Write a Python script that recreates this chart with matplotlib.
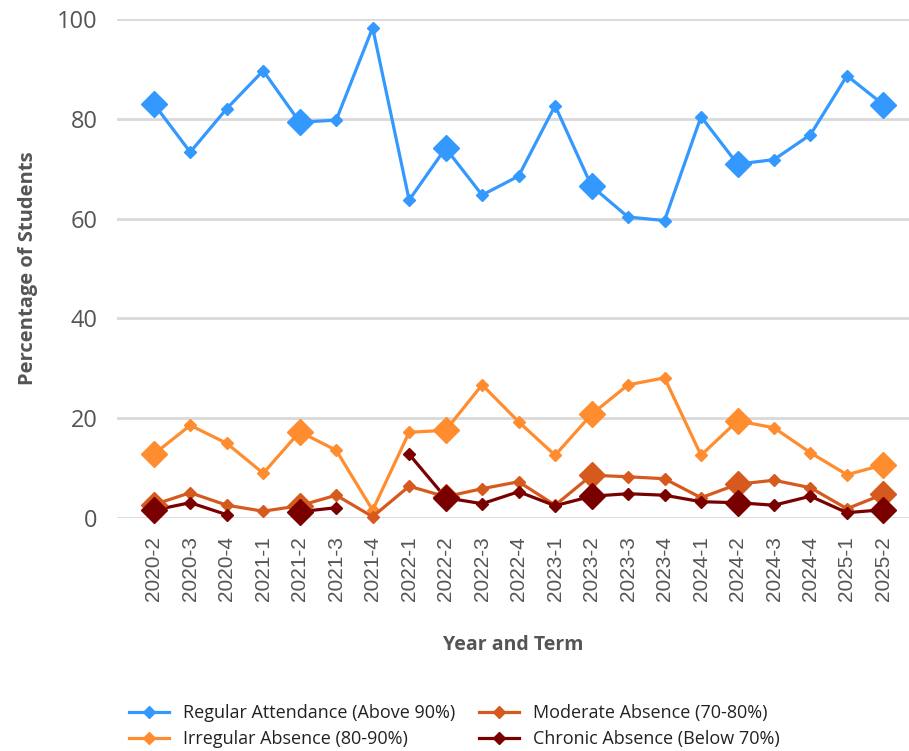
import matplotlib.pyplot as plt
import numpy as np

terms = ["2020-2", "2020-3", "2020-4", "2021-1", "2021-2", "2021-3", "2021-4",
         "2022-1", "2022-2", "2022-3", "2022-4", "2023-1", "2023-2", "2023-3",
         "2023-4", "2024-1", "2024-2", "2024-3", "2024-4", "2025-1", "2025-2"]

regular = [83.0, 73.3, 82.0, 89.6, 79.3, 79.7, 98.2, 63.7, 74.1, 64.7, 68.5,
           82.6, 66.5, 60.3, 59.6, 80.4, 70.9, 71.8, 76.8, 88.6, 82.8]
irregular = [12.8, 18.6, 15.0, 9.0, 17.3, 13.6, 1.6, 17.2, 17.6, 26.7, 19.3,
             12.6, 20.8, 26.7, 28.1, 12.6, 19.5, 18.1, 13.1, 8.7, 10.7]
moderate = [2.7, 5.1, 2.6, 1.4, 2.5, 4.6, 0.3, 6.4, 4.3, 5.9, 7.3,
            2.6, 8.6, 8.3, 7.9, 4.1, 6.8, 7.6, 6.1, 1.9, 4.8]
chronic = [1.6, 3.1, 0.7, np.nan, 1.3, 2.1, np.nan, 12.8, 4.1, 2.9, 5.3,
           2.5, 4.4, 4.9, 4.6, 3.3, 3.1, 2.6, 4.4, 1.1, 1.7]

series = [
    ("Regular Attendance (Above 90%)", regular, "#3399ff"),
    ("Irregular Absence (80-90%)", irregular, "#ff8c2e"),
    ("Moderate Absence (70-80%)", moderate, "#d65a1e"),
    ("Chronic Absence (Below 70%)", chronic, "#7a0000"),
]

# the "-2" terms get the big markers
big = [i for i, t in enumerate(terms) if t.endswith("-2")]

plt.rcParams["font.family"] = ["Open Sans", "DejaVu Sans"]

fig = plt.figure(figsize=(9.09, 7.51), dpi=100)
ax = fig.add_axes([0.129, 0.31, 0.871, 0.665])

x = np.arange(len(terms))
handles = []
for name, vals, color in series:
    vals = np.array(vals, dtype=float)
    line, = ax.plot(x, vals, color=color, lw=2.3, marker="D", markersize=6.5,
                    label=name, clip_on=False, zorder=3)
    ax.plot(x[big], vals[big], linestyle="none", marker="D", markersize=13,
            color=color, clip_on=False, zorder=4)
    handles.append(line)

ax.set_xlim(-1, 20.7)
ax.set_ylim(0, 100)
ax.set_yticks([0, 20, 40, 60, 80, 100])
ax.set_xticks(x)
ax.set_xticklabels(terms, rotation=90, fontsize=15, color="#555555",
                   family=["Liberation Sans", "DejaVu Sans"])
ax.tick_params(axis="y", labelsize=17, colors="#555555", length=0, pad=14)
ax.tick_params(axis="x", length=0, pad=13)
ax.grid(axis="y", color="#d9d9d9", lw=2)
ax.set_axisbelow(True)
for s in ax.spines.values():
    s.set_visible(False)

ax.set_xlabel("Year and Term", fontsize=14, fontweight="bold", color="#555555",
              labelpad=24)
ax.set_ylabel("Percentage of Students", fontsize=14.5, fontweight="bold",
              color="#555555", labelpad=14)

fig.legend(handles=handles, loc="lower center", bbox_to_anchor=(0.5, -0.018),
           ncol=2, frameon=False, fontsize=13, handlelength=2.2,
           columnspacing=1.3, labelspacing=0.45, labelcolor="#222222")

fig.savefig("out.png", dpi=100)
